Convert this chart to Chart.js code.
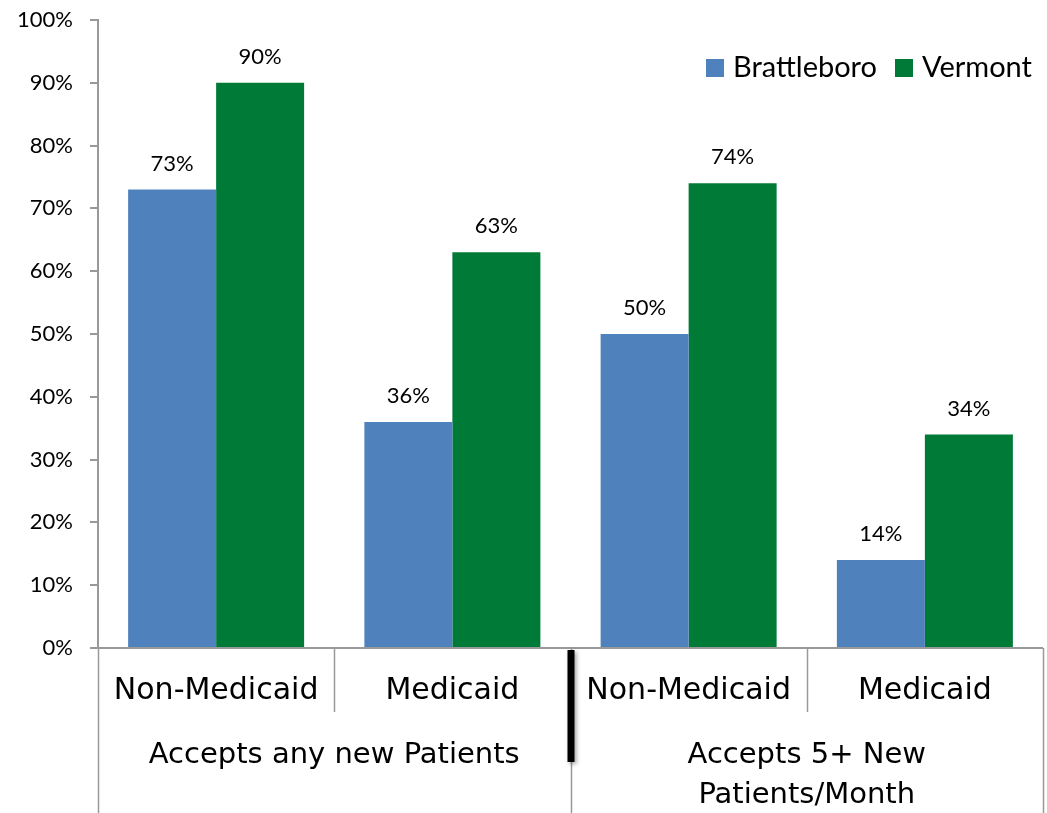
<!DOCTYPE html>
<html lang="en">
<head>
    <meta charset="UTF-8">
    <title>New patients acceptance</title>
    <script src="https://cdn.jsdelivr.net/npm/chart.js"></script>
    <style>
        body { margin: 0; background: #fff; }
        #wrap { position: relative; width: 1047px; height: 813px; }
    </style>
</head>
<body>
    <div id="wrap"><canvas id="chart"></canvas></div>

    <script>
        // chart data
        var categories = ['Non-Medicaid', 'Medicaid', 'Non-Medicaid', 'Medicaid'];
        var groups = [['Accepts any new Patients'], ['Accepts 5+ New', 'Patients/Month']];
        var brattleboro = [73, 36, 50, 14];
        var vermont = [90, 63, 74, 34];
        var yTicks = [0, 10, 20, 30, 40, 50, 60, 70, 80, 90, 100];

        var BLUE = '#4F81BD';
        var GREEN = '#007A37';
        var AXIS = '#999999';

        // data labels above bars
        var barLabels = {
            id: 'barLabels',
            afterDatasetsDraw: function (chart) {
                var ctx = chart.ctx;
                ctx.save();
                ctx.font = '22px Lato, "Liberation Sans", sans-serif';
                ctx.fillStyle = '#000';
                ctx.textAlign = 'center';
                ctx.textBaseline = 'bottom';
                chart.data.datasets.forEach(function (ds, i) {
                    chart.getDatasetMeta(i).data.forEach(function (bar, j) {
                        ctx.fillText(ds.data[j] + '%', bar.x, bar.y - 15);
                    });
                });
                ctx.restore();
            }
        };

        // two-level category axis + legend
        var extras = {
            id: 'extras',
            afterDraw: function (chart) {
                var ctx = chart.ctx;
                var xs = chart.scales.x;
                var area = chart.chartArea;
                var bottom = chart.height;
                var step = xs.getPixelForValue(1) - xs.getPixelForValue(0);
                var left = xs.getPixelForValue(0) - step / 2;
                ctx.save();

                // x axis line
                ctx.strokeStyle = AXIS;
                ctx.lineWidth = 2;
                ctx.beginPath();
                ctx.moveTo(area.left - 8, area.bottom);
                ctx.lineTo(area.right, area.bottom);
                ctx.stroke();

                // separators
                ctx.lineWidth = 1.5;
                for (var k = 0; k <= categories.length; k++) {
                    var x = Math.round(left + k * step) + 0.5;
                    var y2 = (k % 2 === 0) ? bottom : area.bottom + 64;
                    ctx.beginPath();
                    ctx.moveTo(x, area.bottom);
                    ctx.lineTo(x, y2);
                    ctx.stroke();
                }

                // thick black divider between groups
                var mid = left + 2 * step;
                ctx.shadowColor = 'rgba(0,0,0,0.35)';
                ctx.shadowBlur = 4;
                ctx.shadowOffsetX = 2;
                ctx.shadowOffsetY = 2;
                ctx.fillStyle = '#000';
                ctx.fillRect(mid - 3, area.bottom + 2, 7, 112);
                ctx.shadowColor = 'transparent';

                // category labels
                ctx.fillStyle = '#000';
                ctx.textAlign = 'center';
                ctx.textBaseline = 'middle';
                ctx.font = '30px "DejaVu Sans", sans-serif';
                categories.forEach(function (c, i) {
                    ctx.fillText(c, xs.getPixelForValue(i), area.bottom + 43);
                });
                ctx.font = '29px "DejaVu Sans", sans-serif';
                groups.forEach(function (lines, g) {
                    var cx = left + (2 * g + 1) * step;
                    lines.forEach(function (t, li) {
                        ctx.fillText(t, cx, area.bottom + 107 + li * 40);
                    });
                });

                // legend
                var items = [['Brattleboro', BLUE, 706], ['Vermont', GREEN, 895]];
                ctx.font = '29px Lato, "Liberation Sans", sans-serif';
                ctx.textAlign = 'left';
                items.forEach(function (it) {
                    ctx.fillStyle = it[1];
                    ctx.fillRect(it[2], 59, 18, 18);
                    ctx.fillStyle = '#000';
                    ctx.fillText(it[0], it[2] + 27, 68);
                });
                ctx.restore();
            }
        };

        new Chart(document.getElementById('chart'), {
            type: 'bar',
            data: {
                labels: categories,
                datasets: [
                    { label: 'Brattleboro', data: brattleboro, backgroundColor: BLUE },
                    { label: 'Vermont', data: vermont, backgroundColor: GREEN }
                ]
            },
            options: {
                responsive: true,
                maintainAspectRatio: false,
                animation: false,
                layout: { padding: { top: 20, right: 4, left: 0, bottom: 0 } },
                datasets: { bar: { categoryPercentage: 0.745, barPercentage: 1.0 } },
                plugins: {
                    legend: { display: false },
                    tooltip: { enabled: false }
                },
                scales: {
                    x: {
                        grid: { display: false, drawTicks: false },
                        border: { display: false },
                        ticks: { display: false },
                        afterFit: function (s) { s.height = 165; }
                    },
                    y: {
                        min: 0,
                        max: 100,
                        afterBuildTicks: function (s) {
                            s.ticks = yTicks.map(function (v) { return { value: v }; });
                        },
                        afterFit: function (s) {
                            s.width = 98;
                            s.paddingTop = 0;
                            s.paddingBottom = 0;
                        },
                        grid: {
                            display: true,
                            drawOnChartArea: false,
                            drawTicks: true,
                            tickLength: 8,
                            color: AXIS,
                            lineWidth: 2
                        },
                        border: { display: true, color: AXIS, width: 2 },
                        ticks: {
                            padding: 17,
                            color: '#000',
                            font: { family: 'Lato, "Liberation Sans", sans-serif', size: 22 },
                            callback: function (v) { return v + '%'; }
                        }
                    }
                }
            },
            plugins: [barLabels, extras]
        });
    </script>
</body>
</html>
